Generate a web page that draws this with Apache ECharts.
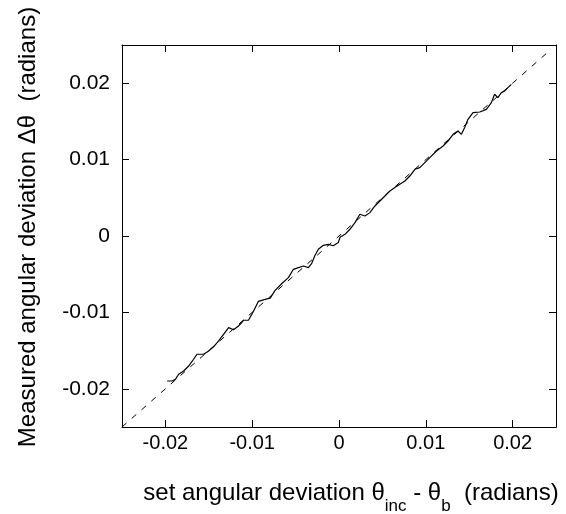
<!DOCTYPE html>
<html>
<head>
<meta charset="utf-8">
<script src="https://cdn.jsdelivr.net/npm/echarts@6/dist/echarts.min.js"></script>
<style>html,body{margin:0;padding:0;background:#fff;}#c{width:566px;height:514px;}</style>
</head>
<body>
<div id="c"></div>
<script>
// Measured curve (set deviation, measured deviation)
var setDeviation = [-0.01980,-0.01923,-0.01885,-0.01847,-0.01790,-0.01732,-0.01675,-0.01636,-0.01560,-0.01506,
  -0.01445,-0.01387,-0.01330,-0.01272,-0.01215,-0.01157,-0.01100,-0.01043,-0.00985,-0.00928,
  -0.00851,-0.00793,-0.00736,-0.00655,-0.00583,-0.00525,-0.00468,-0.00410,-0.00353,-0.00314,
  -0.00276,-0.00238,-0.00180,-0.00123,-0.00066,-0.00008,0.00011,0.00069,0.00126,0.00184,
  0.00241,0.00299,0.00356,0.00414,0.00471,0.00529,0.00586,0.00644,0.00701,0.00759,
  0.00816,0.00874,0.00931,0.00989,0.01046,0.01123,0.01199,0.01256,0.01314,0.01371,
  0.01410,0.01448,0.01486,0.01544,0.01621,0.01698,0.01755,0.01793,0.01831,0.01870,
  0.01908,0.01946,0.01985];
var measuredDeviation = [-0.01898,-0.01898,-0.01876,-0.01810,-0.01767,-0.01702,-0.01613,-0.01548,-0.01548,-0.01509,
  -0.01450,-0.01374,-0.01287,-0.01199,-0.01228,-0.01178,-0.01103,-0.01103,-0.00986,-0.00855,
  -0.00829,-0.00813,-0.00711,-0.00619,-0.00545,-0.00436,-0.00414,-0.00393,-0.00414,-0.00357,
  -0.00253,-0.00174,-0.00122,-0.00109,-0.00128,-0.00086,-0.00017,0.00022,0.00088,0.00175,
  0.00284,0.00262,0.00306,0.00393,0.00458,0.00524,0.00589,0.00634,0.00677,0.00720,
  0.00785,0.00873,0.00895,0.00961,0.01026,0.01113,0.01178,0.01243,0.01331,0.01374,
  0.01331,0.01419,0.01527,0.01615,0.01623,0.01658,0.01746,0.01855,0.01812,0.01877,
  0.01898,0.01942,0.01985];
// Ideal response line (dashed)
var idealX = [-0.025, 0.024];
var idealY = [-0.025, 0.024];
// Axes
var axisMin = -0.025, axisMax = 0.025;
var xTicks = [-0.02, -0.01, 0, 0.01, 0.02];
var yTicks = [-0.02, -0.01, 0, 0.01, 0.02];

var measured = setDeviation.map(function (x, i) { return [x, measuredDeviation[i]]; });
var ideal = idealX.map(function (x, i) { return [x, idealY[i]]; });

var FONT = 'Liberation Sans';
function fmt(v) { return v === 0 ? '0' : String(+v.toFixed(3)); }

function mkAxis(pos, ticks, showLabel, extra) {
  var a = {
    type: 'value', position: pos, min: axisMin, max: axisMax,
    axisLine: { show: true, onZero: false, lineStyle: { color: '#000', width: 1 } },
    axisTick: { show: true, inside: true, length: 7, customValues: ticks, lineStyle: { color: '#000', width: 1 } },
    axisLabel: { show: showLabel, customValues: ticks, formatter: fmt, color: '#000', fontFamily: FONT, fontSize: 20 },
    splitLine: { show: false }
  };
  for (var k in extra) a.axisLabel[k] = extra[k];
  return a;
}

var chart = echarts.init(document.getElementById('c'), null, { renderer: 'canvas' });
chart.setOption({
  animation: false,
  backgroundColor: '#fff',
  grid: { left: 122, top: 45, width: 434, height: 382, containLabel: false },
  xAxis: [mkAxis('bottom', xTicks, true, { margin: 6, fontSize: 20 }), mkAxis('top', xTicks, false, {})],
  yAxis: [mkAxis('left', yTicks, true, { margin: 12, fontSize: 21 }), mkAxis('right', yTicks, false, {})],
  series: [
    { type: 'line', data: ideal, showSymbol: false, symbol: 'none',
      lineStyle: { color: '#000', width: 1, type: [6, 7] } },
    { type: 'line', data: measured, showSymbol: false, symbol: 'none',
      lineStyle: { color: '#000', width: 1.2 } }
  ],
  graphic: [
    { type: 'text', x: 351, y: 481,
      style: { text: '{m|set angular deviation θ}{s|inc}{m| - θ}{s|b}{m|  (radians)}',
        align: 'center', verticalAlign: 'top', fill: '#000',
        rich: {
          m: { fontFamily: FONT, fontSize: 24, verticalAlign: 'top', fill: '#000' },
          s: { fontFamily: FONT, fontSize: 17, verticalAlign: 'top', padding: [17, 0, 0, 0], fill: '#000' }
        } } },
    { type: 'text', x: 28, y: 227, rotation: Math.PI / 2,
      style: { text: 'Measured angular deviation Δθ  (radians)', align: 'center', verticalAlign: 'middle',
        fontFamily: FONT, fontSize: 24, fill: '#000' } }
  ]
});
</script>
</body>
</html>
